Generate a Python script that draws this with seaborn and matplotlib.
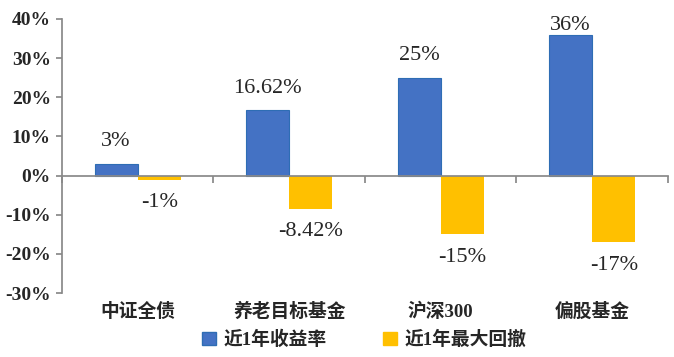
import matplotlib
matplotlib.use("Agg")
import matplotlib.pyplot as plt
import matplotlib.ticker as mticker
from matplotlib.patches import Patch
import seaborn as sns
import pandas as pd

# data
categories = ["中证全债", "养老目标基金", "沪深300", "偏股基金"]
series_names = ["近1年收益率", "近1年最大回撤"]
returns_1y = [3, 16.62, 25, 36]
drawdown_1y = [-1, -8.42, -15, -17]
return_labels = ["3%", "16.62%", "25%", "36%"]
drawdown_labels = ["-1%", "-8.42%", "-15%", "-17%"]

colors = ["#4472C4", "#FFC000"]
SERIF_CJK = ["Liberation Serif", "Noto Sans CJK SC"]
AXIS_GRAY = "#898989"

df = pd.DataFrame({
    "category": categories * 2,
    "series": [series_names[0]] * 4 + [series_names[1]] * 4,
    "value": returns_1y + drawdown_1y,
})

sns.set_theme(style="white")
plt.rcParams["font.family"] = SERIF_CJK

fig = plt.figure(figsize=(6.74, 3.57), dpi=100)
ax = fig.add_axes([0.092, 0.179, 0.899, 0.768])

sns.barplot(data=df, x="category", y="value", hue="series",
            palette=colors, saturation=1, width=0.57, gap=0, ax=ax,
            legend=False, order=categories, hue_order=series_names)

# blue bars get a thin darker outline like the original
for p in ax.containers[0]:
    p.set_edgecolor("#2E6DB4")
    p.set_linewidth(0.8)
for p in ax.containers[1]:
    p.set_linewidth(0)

ax.set_ylim(-30, 40)
ax.set_xlim(-0.5, 3.5)
ax.yaxis.set_major_locator(mticker.MultipleLocator(10))
ax.yaxis.set_major_formatter(mticker.FuncFormatter(lambda v, _: f"{v:.0f}%"))
ax.set_xlabel("")
ax.set_ylabel("")

# spines: left axis + zero line with category boundary ticks
for s in ["top", "right"]:
    ax.spines[s].set_visible(False)
ax.spines["left"].set_color(AXIS_GRAY)
ax.spines["bottom"].set_color(AXIS_GRAY)
ax.spines["bottom"].set_position(("data", 0))
ax.set_xticks([-0.5, 0.5, 1.5, 2.5, 3.5])
ax.set_xticklabels([])
ax.tick_params(axis="x", direction="out", length=5, color=AXIS_GRAY, bottom=True)
ax.tick_params(axis="y", direction="out", length=4, color=AXIS_GRAY, left=True,
               pad=4, labelsize=14)
for t in ax.get_yticklabels():
    t.set_fontweight("bold")

# category labels along the bottom of the plot area
sec = ax.secondary_xaxis("bottom")
sec.set_xticks(range(len(categories)))
sec.set_xticklabels(categories, fontsize=13.5, fontweight="bold", family=SERIF_CJK)
sec.tick_params(length=0, pad=7)
sec.spines["bottom"].set_visible(False)

# data labels
for p, lab in zip(ax.containers[0], return_labels):
    pad = 0 if lab == "36%" else 9
    ax.annotate(lab, (p.get_x() + p.get_width() / 2, p.get_height()),
                xytext=(0, pad), textcoords="offset points",
                ha="center", va="bottom", fontsize=16, family=SERIF_CJK)
for p, lab in zip(ax.containers[1], drawdown_labels):
    ax.annotate(lab, (p.get_x() + p.get_width() / 2, p.get_height()),
                xytext=(0, -10), textcoords="offset points",
                ha="center", va="top", fontsize=16, family=SERIF_CJK)

handles = [Patch(facecolor=colors[0], edgecolor="#2E6DB4"),
           Patch(facecolor=colors[1], edgecolor=colors[1])]
fig.legend(handles, series_names, loc="center", bbox_to_anchor=(0.54, 0.048),
           ncol=2, frameon=False, handlelength=0.75, handleheight=0.75,
           columnspacing=3.0, handletextpad=0.4,
           prop={"family": SERIF_CJK, "weight": "bold", "size": 13.5})

fig.savefig("out.png", dpi=100)
